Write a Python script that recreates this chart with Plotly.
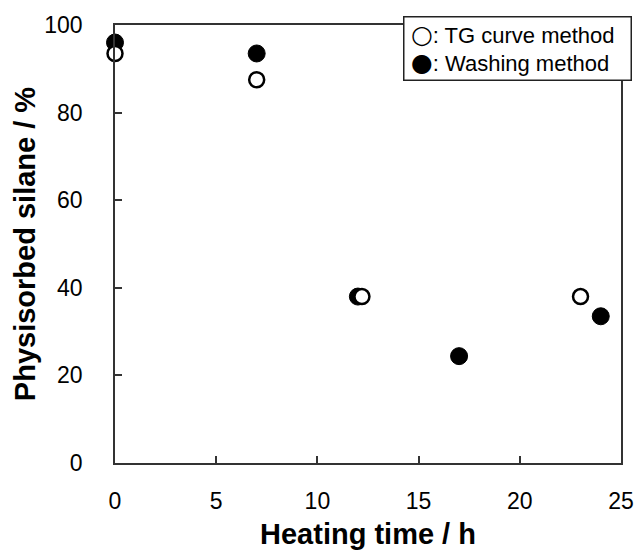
import plotly.graph_objects as go

# Heating time (h) and fraction of physisorbed silane (%) for each method
tg_time = [0, 7, 12.2, 23]
tg_silane = [93.5, 87.5, 38, 38]

wash_time = [0, 7, 12, 17, 24]
wash_silane = [96, 93.5, 38, 24.4, 33.5]

x_ticks = [0, 5, 10, 15, 20, 25]
y_ticks = [0, 20, 40, 60, 80, 100]

FONT = "Liberation Sans, Arial, sans-serif"

fig = go.Figure()

fig.add_trace(go.Scatter(
    x=wash_time, y=wash_silane, mode="markers", name="Washing method",
    marker=dict(symbol="circle", size=17, color="black",
                line=dict(color="black", width=1)),
    cliponaxis=False,
))
fig.add_trace(go.Scatter(
    x=tg_time, y=tg_silane, mode="markers", name="TG curve method",
    marker=dict(symbol="circle", size=15, color="white",
                line=dict(color="black", width=2.5)),
    cliponaxis=False,
))

axis_common = dict(
    showgrid=False, zeroline=False, showline=True, linecolor="#333",
    linewidth=1.5, mirror=True, ticks="inside", ticklen=7, tickwidth=1.5,
    tickcolor="#333", tickfont=dict(family=FONT, size=23, color="black"),
    automargin=False,
)

fig.update_xaxes(
    range=[0, 25], tickvals=x_ticks, ticklabelstandoff=17,
    title=dict(text="<b>Heating time / h</b>", standoff=22,
               font=dict(family=FONT, size=29, color="black")),
    **axis_common,
)
fig.update_yaxes(
    range=[0, 100], tickvals=y_ticks, ticklabelstandoff=26,
    title=dict(text="<b>Physisorbed silane / %</b>", standoff=0,
               font=dict(family=FONT, size=29, color="black")),
    **axis_common,
)

# Key drawn as a boxed note with circle glyphs
GLYPH = "<span style=\"font-family:'DejaVu Sans';font-size:25px\">{}</span>"
fig.add_annotation(
    xref="paper", yref="paper", x=0.569, y=1.02, xanchor="left", yanchor="top",
    text="\u2009" + GLYPH.format("○") + ": TG curve method<br>"
         + "\u2009" + GLYPH.format("●") + ": Washing method",
    align="left", width=222, showarrow=False,
    font=dict(family=FONT, size=22, color="black"),
    bgcolor="white", bordercolor="#222", borderwidth=1.5, borderpad=2,
)

fig.update_layout(
    width=637, height=550, showlegend=False,
    margin=dict(l=115, r=16, t=25, b=87),
    plot_bgcolor="white", paper_bgcolor="white",
)

fig.write_html("out.html")
